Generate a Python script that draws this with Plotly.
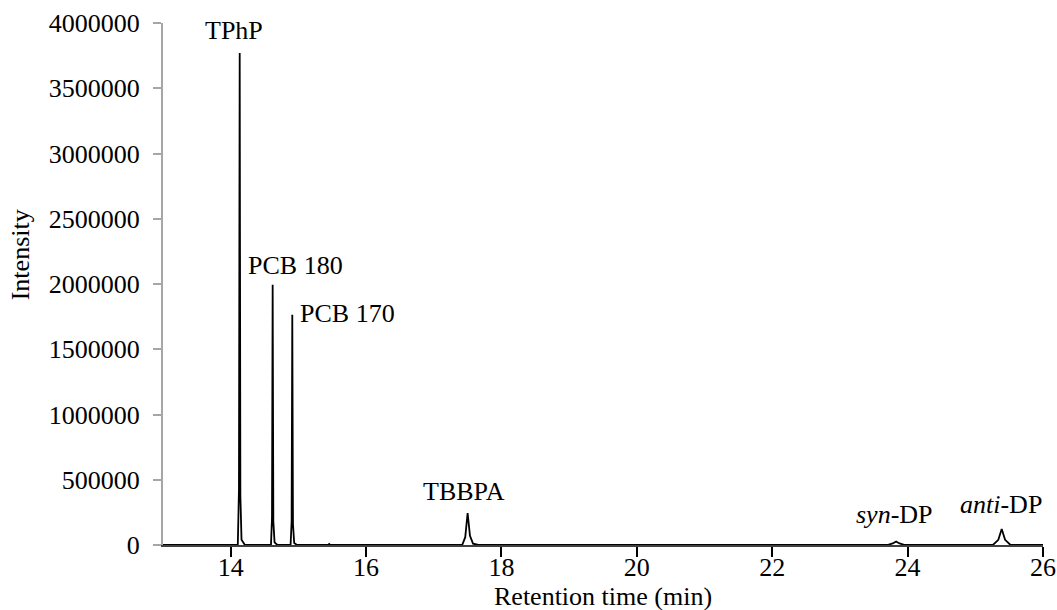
import plotly.graph_objects as go

# Chromatogram trace points (retention time in min, intensity)
rt = [13.00, 14.105, 14.122, 14.133, 14.143, 14.160, 14.210,
      14.595, 14.610, 14.620, 14.630, 14.648, 14.690,
      14.885, 14.900, 14.910, 14.920, 14.938, 14.980,
      15.440, 15.455, 15.470,
      17.420, 17.465, 17.500, 17.535, 17.580, 17.660,
      23.700, 23.780, 23.830, 23.880, 23.960,
      25.260, 25.340, 25.390, 25.440, 25.520,
      26.00]
intensity = [0, 0, 420000, 3770000, 380000, 40000, 0,
             0, 200000, 1995000, 180000, 20000, 0,
             0, 180000, 1765000, 160000, 15000, 0,
             0, 8000, 0,
             0, 60000, 245000, 70000, 10000, 0,
             0, 12000, 27000, 12000, 0,
             0, 40000, 122000, 40000, 0,
             0]

# Peak labels
label_text = ["TPhP", "PCB 180", "PCB 170", "TBBPA", "<i>syn</i>-DP", "<i>anti</i>-DP"]
label_x = [14.05, 14.96, 15.73, 17.45, 23.80, 25.38]
label_y = [3940000, 2145000, 1777000, 409000, 235000, 307000]

y_ticks = [0, 500000, 1000000, 1500000, 2000000, 2500000, 3000000, 3500000, 4000000]
x_ticks = [14, 16, 18, 20, 22, 24, 26]

x_title = "Retention time (min)"
y_title = "Intensity"

FONT = "Liberation Serif"
FS = 26

fig = go.Figure()
fig.add_trace(go.Scatter(x=rt, y=intensity, mode="lines",
                         line=dict(color="black", width=1.8),
                         showlegend=False, hoverinfo="skip", cliponaxis=False))

for t, xx, yy in zip(label_text, label_x, label_y):
    fig.add_annotation(x=xx, y=yy, text=t, showarrow=False,
                       xanchor="center", yanchor="middle",
                       font=dict(family=FONT, size=FS, color="black"))

# axis titles
fig.add_annotation(xref="paper", yref="paper", x=0.5, y=0, yanchor="middle",
                   xanchor="center", yshift=-51, text=x_title, showarrow=False,
                   font=dict(family=FONT, size=FS, color="black"))
fig.add_annotation(xref="paper", yref="paper", x=0, y=0.555, xanchor="center",
                   yanchor="middle", xshift=-143, textangle=-90, text=y_title,
                   showarrow=False, font=dict(family=FONT, size=FS, color="black"))

fig.update_layout(
    width=1057, height=610,
    margin=dict(l=163, r=14, t=23, b=65),
    paper_bgcolor="white", plot_bgcolor="white",
    font=dict(family=FONT, size=FS, color="black"),
    xaxis=dict(range=[13, 26], tickvals=x_ticks, ticktext=[str(v) for v in x_ticks],
               showgrid=False, zeroline=False, showline=True, linecolor="#404040",
               linewidth=2, ticks="outside", ticklen=10, tickwidth=2, tickcolor="black",
               ticklabelstandoff=-12,
               layer="below traces", automargin=False),
    yaxis=dict(range=[0, 4000000], tickvals=y_ticks, ticktext=[str(v) for v in y_ticks],
               showgrid=False, zeroline=False, showline=True, linecolor="#a6a6a6",
               linewidth=2, ticks="outside", ticklen=8, tickwidth=2, tickcolor="#a6a6a6",
               ticklabelstandoff=8, automargin=False),
)

fig.write_html("out.html", config={"displayModeBar": False},
               post_script="document.body.style.margin='0';")
